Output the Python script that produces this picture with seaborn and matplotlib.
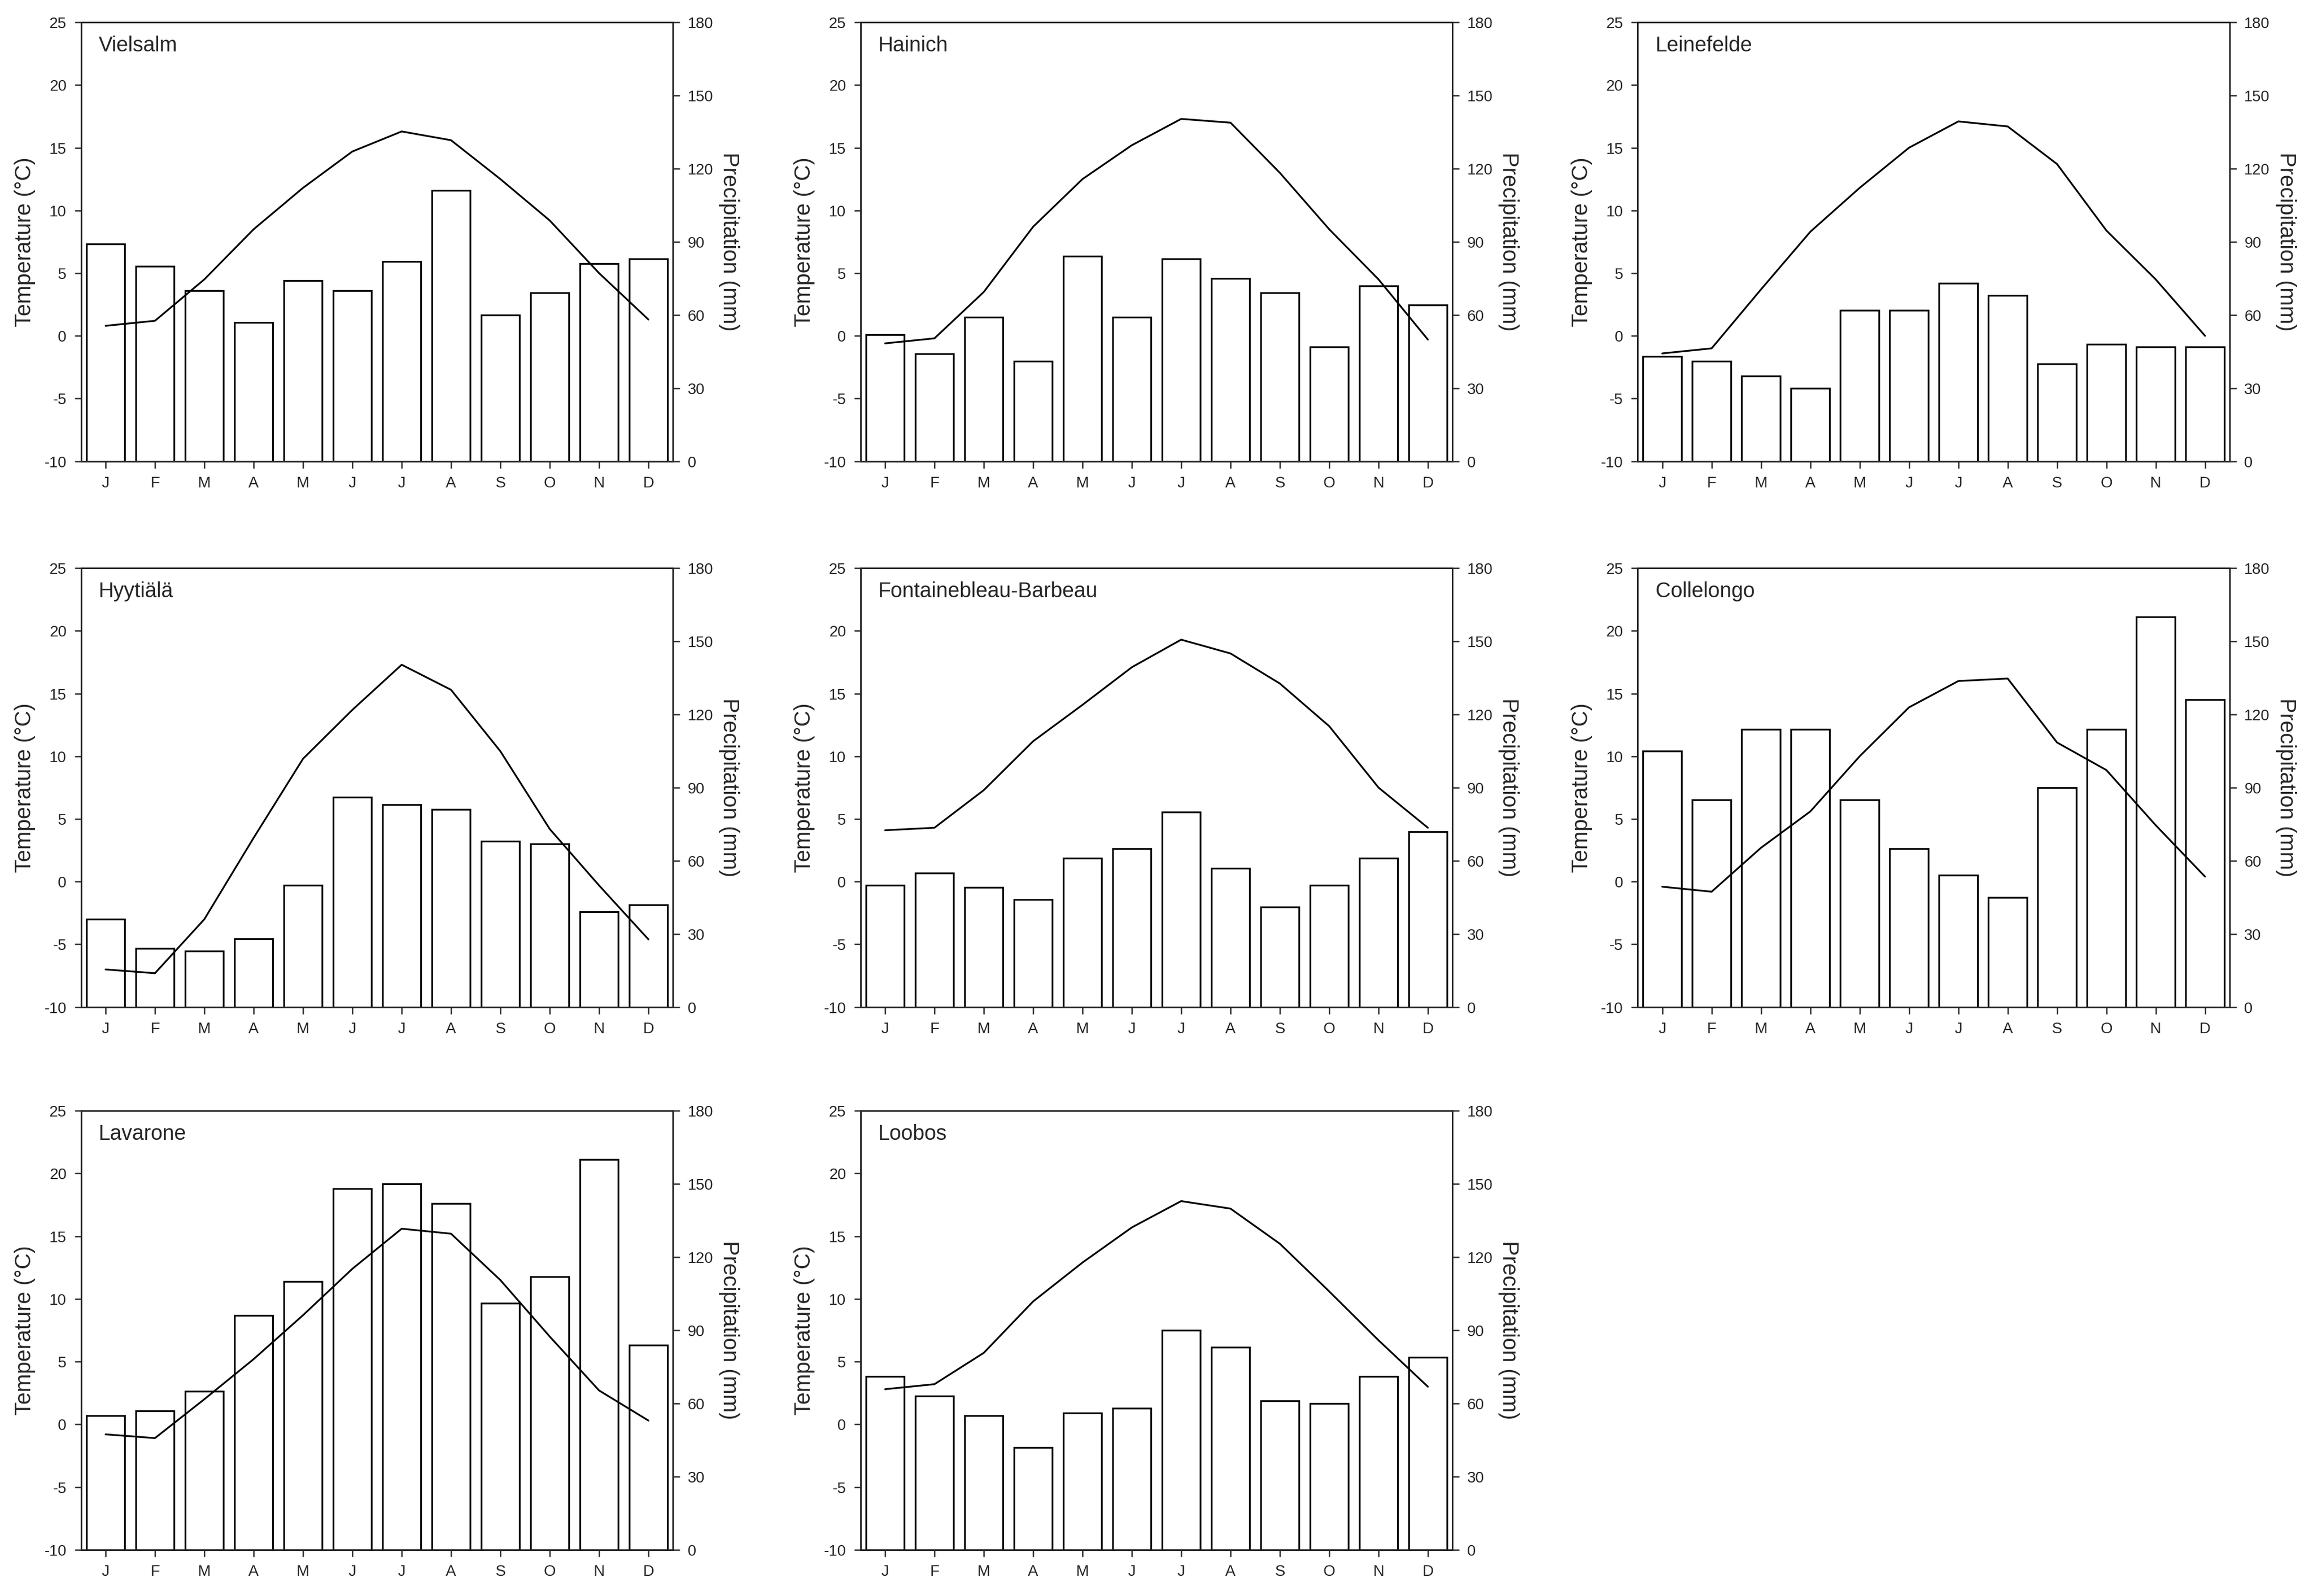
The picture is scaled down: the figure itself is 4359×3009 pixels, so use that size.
import numpy as np
import pandas as pd
import matplotlib
matplotlib.use("Agg")
from matplotlib import pyplot as plt
import seaborn as sns

months = ["J", "F", "M", "A", "M", "J", "J", "A", "S", "O", "N", "D"]
sites = ["Vielsalm", "Hainich", "Leinefelde", "Hyytiälä", "Fontainebleau-Barbeau",
         "Collelongo", "Lavarone", "Loobos"]

temp = {
    "Vielsalm": [0.8, 1.2, 4.5, 8.5, 11.8, 14.7, 16.3, 15.6, 12.5, 9.2, 5.0, 1.3],
    "Hainich": [-0.6, -0.2, 3.5, 8.7, 12.5, 15.2, 17.3, 17.0, 13.0, 8.5, 4.5, -0.3],
    "Leinefelde": [-1.4, -1.0, 3.7, 8.3, 11.8, 15.0, 17.1, 16.7, 13.7, 8.4, 4.5, 0.0],
    "Hyytiälä": [-7.0, -7.3, -3.0, 3.5, 9.8, 13.7, 17.3, 15.3, 10.4, 4.2, -0.3, -4.6],
    "Fontainebleau-Barbeau": [4.1, 4.3, 7.3, 11.2, 14.1, 17.1, 19.3, 18.2, 15.8, 12.4, 7.5, 4.3],
    "Collelongo": [-0.4, -0.8, 2.7, 5.6, 10.0, 13.9, 16.0, 16.2, 11.1, 8.9, 4.5, 0.4],
    "Lavarone": [-0.8, -1.1, 2.0, 5.2, 8.7, 12.4, 15.6, 15.2, 11.5, 7.0, 2.7, 0.3],
    "Loobos": [2.8, 3.2, 5.7, 9.8, 12.9, 15.7, 17.8, 17.2, 14.4, 10.6, 6.7, 3.0],
}

precip = {
    "Vielsalm": [89, 80, 70, 57, 74, 70, 82, 111, 60, 69, 81, 83],
    "Hainich": [52, 44, 59, 41, 84, 59, 83, 75, 69, 47, 72, 64],
    "Leinefelde": [43, 41, 35, 30, 62, 62, 73, 68, 40, 48, 47, 47],
    "Hyytiälä": [36, 24, 23, 28, 50, 86, 83, 81, 68, 67, 39, 42],
    "Fontainebleau-Barbeau": [50, 55, 49, 44, 61, 65, 80, 57, 41, 50, 61, 72],
    "Collelongo": [105, 85, 114, 114, 85, 65, 54, 45, 90, 114, 160, 126],
    "Lavarone": [55, 57, 65, 96, 110, 148, 150, 142, 101, 112, 160, 84],
    "Loobos": [71, 63, 55, 42, 56, 58, 90, 83, 61, 60, 71, 79],
}

sns.set_style("ticks")
plt.rcParams['font.family'] = ['Arial', 'Liberation Sans', 'DejaVu Sans']
plt.rcParams['axes.unicode_minus'] = False

fig = plt.figure(figsize=(4359 / 300, 3009 / 300), dpi=300)
lefts = [0.035, 0.372, 0.708]
bottoms = [0.711, 0.369, 0.029]
w, h = 0.256, 0.275

for i, site in enumerate(sites):
    r, c = divmod(i, 3)
    ax = fig.add_axes([lefts[c], bottoms[r], w, h])
    ax2 = ax.twinx()
    df = pd.DataFrame({"x": np.arange(12), "P": precip[site], "T": temp[site]})
    sns.barplot(data=df, x="x", y="P", ax=ax2, color="white", edgecolor="black",
                linewidth=0.8, width=0.78, saturation=1)
    sns.lineplot(data=df, x="x", y="T", ax=ax, color="black", linewidth=0.8)
    ax.set_zorder(ax2.get_zorder() + 1)
    ax.patch.set_visible(False)
    ax.set_xlim(-0.5, 11.5)
    ax2.set_xlim(-0.5, 11.5)
    ax.set_ylim(-10, 25)
    ax.set_yticks(range(-10, 26, 5))
    ax2.set_ylim(0, 180)
    ax2.set_yticks(range(0, 181, 30))
    ax.set_xticks(range(12))
    ax.set_xticklabels(months)
    ax.set_xlabel("")
    ax2.set_xlabel("")
    ax.set_ylabel("Temperature (°C)", fontsize=10)
    ax2.set_ylabel("Precipitation (mm)", fontsize=10, rotation=270, labelpad=12)
    ax.tick_params(labelsize=7, width=0.6, length=3)
    ax2.tick_params(labelsize=7, width=0.6, length=3)
    for a in (ax, ax2):
        for s in a.spines.values():
            s.set_linewidth(0.7)
            s.set_visible(True)
    ax.text(0.03, 0.97, site, transform=ax.transAxes, fontsize=9.5, va="top", ha="left")

fig.savefig("out.png", dpi=300)
